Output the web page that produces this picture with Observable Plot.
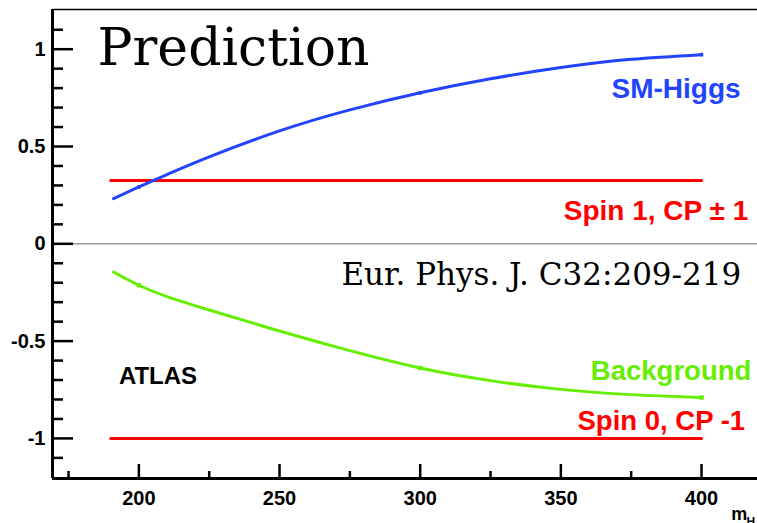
<!DOCTYPE html>
<html><head><meta charset="utf-8">
<script src="https://cdn.jsdelivr.net/npm/d3@7"></script>
<script src="https://cdn.jsdelivr.net/npm/@observablehq/plot@0.6"></script>
<style>
html,body{margin:0;padding:0;background:#fff;}
#chart svg{display:block;}
</style></head><body><div id="chart"></div>
<script>
// Data
const mass = [191, 200, 210, 225, 250, 275, 300, 325, 350, 375, 400];
const smHiggs = [0.232, 0.292, 0.356, 0.447, 0.580, 0.688, 0.776, 0.848, 0.906, 0.948, 0.972];
const background = [-0.145, -0.213, -0.271, -0.340, -0.448, -0.549, -0.638, -0.703, -0.748, -0.775, -0.790];
const flatMass = [190, 400];
const spin1Value = 0.325;
const spin0Value = -1;
const markerMass = [200, 300, 400];

const xMajor = [200, 250, 300, 350, 400];
const xMinor = [175, 225, 275, 325, 375];
const yMajor = [-1, -0.5, 0, 0.5, 1];
const yMinor = [-1.1, -0.9, -0.8, -0.7, -0.6, -0.4, -0.3, -0.2, -0.1, 0.1, 0.2, 0.3, 0.4, 0.6, 0.7, 0.8, 0.9, 1.1];

const xDomain = [169.3, 419.9];
const yDomain = [-1.206, 1.204];

const W = 757, H = 523;
const mL = 52, mR = 0, mT = 9, mB = 45;
const innerW = W - mL - mR, innerH = H - mT - mB;

const smData = mass.map((m, i) => ({m, v: smHiggs[i]}));
const bgData = mass.map((m, i) => ({m, v: background[i]}));
const spin1Data = flatMass.map(m => ({m, v: spin1Value}));
const spin0Data = flatMass.map(m => ({m, v: spin0Value}));

const blue = "#2244ff", red = "#ff0000", green = "#66ee00";
const sans = "Liberation Sans, Arial, sans-serif";
const serif = "DejaVu Serif, serif";

const chart = Plot.plot({
  width: W, height: H,
  marginLeft: mL, marginRight: mR, marginTop: mT, marginBottom: mB,
  style: {fontFamily: sans, background: "#fff", overflow: "visible"},
  x: {domain: xDomain},
  y: {domain: yDomain},
  marks: [
    Plot.ruleY([0], {stroke: "#999", strokeWidth: 1.5}),
    // axis frame
    Plot.ruleX([xDomain[0]], {stroke: "#000", strokeWidth: 3}),
    Plot.ruleY([yDomain[0]], {stroke: "#000", strokeWidth: 3}),
    Plot.ruleY([yDomain[1]], {stroke: "#000", strokeWidth: 1.5}),
    // inward ticks
    Plot.ruleY(yMajor, {stroke: "#000", strokeWidth: 2.5, insetRight: innerW - 21}),
    Plot.ruleY(yMinor, {stroke: "#000", strokeWidth: 2.5, insetRight: innerW - 11}),
    Plot.ruleX(xMajor, {stroke: "#000", strokeWidth: 2.5, insetTop: innerH - 14}),
    Plot.ruleX(xMinor, {stroke: "#000", strokeWidth: 2.5, insetTop: innerH - 7}),
    Plot.axisY({ticks: yMajor, tickSize: 0, tickPadding: 7, tickFormat: d => String(d),
      fontSize: 20, fontWeight: "bold", fill: "#000", label: null}),
    Plot.axisX({ticks: xMajor, tickSize: 0, tickPadding: 12, tickFormat: d => String(d),
      fontSize: 20, fontWeight: "bold", fill: "#000", label: null}),
    // series
    Plot.line(spin1Data, {x: "m", y: "v", stroke: red, strokeWidth: 3}),
    Plot.line(spin0Data, {x: "m", y: "v", stroke: red, strokeWidth: 3}),
    Plot.line(smData, {x: "m", y: "v", stroke: blue, strokeWidth: 3, curve: "natural"}),
    Plot.line(bgData, {x: "m", y: "v", stroke: green, strokeWidth: 3, curve: "natural"}),
    Plot.dot(smData.filter(d => markerMass.includes(d.m)), {x: "m", y: "v", fill: blue, r: 2, symbol: "square"}),
    Plot.dot(bgData.filter(d => markerMass.includes(d.m)), {x: "m", y: "v", fill: green, r: 2.5, symbol: "square"}),
    // annotations
    Plot.text(["Prediction"], {x: 185.3, y: 0.917, textAnchor: "start", lineAnchor: "bottom",
      fontFamily: serif, fontSize: 52, fill: "#000"}),
    Plot.text(["Eur. Phys. J. C32:209-219"], {x: 272.0, y: -0.213, textAnchor: "start", lineAnchor: "bottom",
      fontFamily: serif, fontSize: 31, fill: "#000"}),
    Plot.text(["SM-Higgs"], {x: 413.9, y: 0.751, textAnchor: "end", lineAnchor: "bottom",
      fontSize: 28, fontWeight: "bold", fill: blue}),
    Plot.text(["Spin 1, CP \u00b1 1"], {x: 416.6, y: 0.121, textAnchor: "end", lineAnchor: "bottom",
      fontSize: 28, fontWeight: "bold", fill: red}),
    Plot.text(["Background"], {x: 417.7, y: -0.701, textAnchor: "end", lineAnchor: "bottom",
      fontSize: 27.5, fontWeight: "bold", fill: green}),
    Plot.text(["Spin 0, CP -1"], {x: 415.5, y: -0.958, textAnchor: "end", lineAnchor: "bottom",
      fontSize: 27.5, fontWeight: "bold", fill: red}),
    Plot.text(["ATLAS"], {x: 192.9, y: -0.718, textAnchor: "start", lineAnchor: "bottom",
      fontSize: 24, fontWeight: "bold", fill: "#000"}),
    Plot.text(["m"], {x: 410.6, y: -1.418, textAnchor: "start", lineAnchor: "bottom",
      fontSize: 18, fontWeight: "bold", fill: "#000"}),
    Plot.text(["H"], {x: 416.0, y: -1.452, textAnchor: "start", lineAnchor: "bottom",
      fontSize: 12, fontWeight: "bold", fill: "#000"})
  ]
});
document.getElementById("chart").appendChild(chart);
</script></body></html>
